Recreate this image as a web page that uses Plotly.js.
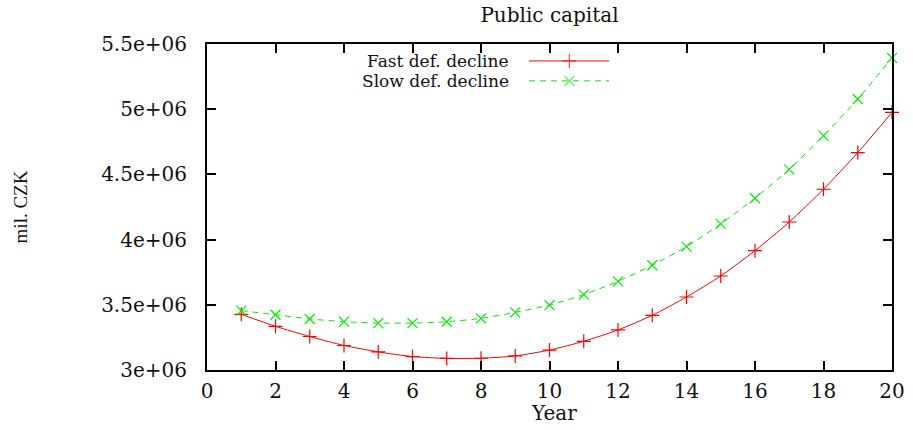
<!DOCTYPE html>
<html>
<head>
<meta charset="utf-8">
<script src="https://cdn.plot.ly/plotly-3.0.1.min.js"></script>
<style>
  html, body { margin: 0; padding: 0; background: #fff; }
  #chart { width: 913px; height: 430px; }
</style>
</head>
<body>
<div id="chart"></div>
<script>
// Public capital stock under two deficit-decline scenarios (mil. CZK)
const years = [1, 2, 3, 4, 5, 6, 7, 8, 9, 10, 11, 12, 13, 14, 15, 16, 17, 18, 19, 20];

const fastDecline = [3427000, 3335000, 3257000, 3188000, 3139000, 3103000, 3089000, 3090000, 3108000, 3153000,
                     3220000, 3307000, 3419000, 3560000, 3721000, 3915000, 4135000, 4386000, 4667000, 4976000];

const slowDecline = [3455000, 3424000, 3391000, 3371000, 3360000, 3360000, 3370000, 3396000, 3442000, 3498000,
                     3578000, 3680000, 3803000, 3946000, 4120000, 4317000, 4539000, 4797000, 5078000, 5393000];

const seriesNames = ['Fast def. decline', 'Slow def. decline'];

const xTickVals = [0, 2, 4, 6, 8, 10, 12, 14, 16, 18, 20];
const yTickVals = [3000000, 3500000, 4000000, 4500000, 5000000, 5500000];
const yTickLabels = ['3e+06', '3.5e+06', '4e+06', '4.5e+06', '5e+06', '5.5e+06'];

// Key samples live on a hidden 0..1 overlay axis pair spanning the plot area
const keyX = [0.470, 0.529, 0.587];
const keyRowY = [0.948, 0.887];
const keyLabelX = 0.442;

const serif = 'DejaVu Serif, Liberation Serif, serif';
const RED = '#ff0000';
const GREEN = '#00ee00';

const fastStyle = {
  line: { color: RED, width: 1 },
  marker: { symbol: 'cross-thin-open', size: 10, color: RED, line: { color: RED, width: 1.2 } }
};
const slowStyle = {
  line: { color: GREEN, width: 1, dash: '6px,5px' },
  marker: { symbol: 'x-thin-open', size: 10, color: GREEN, line: { color: GREEN, width: 1.2 } }
};

function seriesTrace(xs, ys, name, st) {
  return {
    x: xs, y: ys, name: name, type: 'scatter', mode: 'lines+markers',
    line: Object.assign({ shape: 'spline', smoothing: 0.6 }, st.line),
    marker: st.marker, cliponaxis: false, showlegend: false
  };
}

const traces = [
  seriesTrace(years, fastDecline, seriesNames[0], fastStyle),
  seriesTrace(years, slowDecline, seriesNames[1], slowStyle)
];

// Key line samples with a single marker in the middle
[fastStyle, slowStyle].forEach(function (st, i) {
  traces.push({
    x: keyX, y: [keyRowY[i], keyRowY[i], keyRowY[i]],
    xaxis: 'x2', yaxis: 'y2', type: 'scatter', mode: 'lines+markers',
    line: st.line,
    marker: Object.assign({}, st.marker, { size: [0, st.marker.size, 0] }),
    hoverinfo: 'skip', showlegend: false, cliponaxis: false
  });
});

const annotations = seriesNames.map(function (name, i) {
  return {
    text: name, xref: 'paper', yref: 'paper', x: keyLabelX, y: keyRowY[i],
    xanchor: 'right', yanchor: 'middle', showarrow: false, borderpad: 0,
    font: { family: serif, size: 17, color: '#111' }
  };
});

// x-axis title sits tight under the tick labels
annotations.push({
  text: 'Year', xref: 'paper', yref: 'paper', x: 0.507, y: -43 / 326,
  xanchor: 'center', yanchor: 'middle', showarrow: false, borderpad: 0,
  font: { family: serif, size: 20, color: '#111' }
});

const axisCommon = {
  showgrid: false, zeroline: false, showline: true, mirror: 'ticks',
  linecolor: '#000', linewidth: 2, ticks: 'inside', ticklen: 9, tickwidth: 2, tickcolor: '#000',
  tickfont: { family: serif, size: 20, color: '#111' }
};

const layout = {
  width: 913, height: 430,
  margin: { l: 207, r: 21, t: 44, b: 60, pad: 0 },
  paper_bgcolor: '#fff', plot_bgcolor: '#fff',
  showlegend: false,
  title: {
    text: 'Public capital', font: { family: serif, size: 20, color: '#111' },
    x: 0.5, xref: 'paper', xanchor: 'center', y: 1 - 15 / 430, yref: 'container', yanchor: 'middle'
  },
  xaxis: Object.assign({}, axisCommon, {
    range: [0, 20], tickvals: xTickVals, ticklabelstandoff: 2
  }),
  yaxis: Object.assign({}, axisCommon, {
    range: [3000000, 5500000], tickvals: yTickVals, ticktext: yTickLabels, ticklabelstandoff: 14,
    title: { text: 'mil. CZK', font: { family: 'Liberation Serif, Times New Roman, serif', size: 19, color: '#111' }, standoff: 68 }
  }),
  xaxis2: { overlaying: 'x', range: [0, 1], visible: false, fixedrange: true },
  yaxis2: { overlaying: 'y', range: [0, 1], visible: false, fixedrange: true },
  annotations: annotations
};

Plotly.newPlot('chart', traces, layout, { displayModeBar: false, staticPlot: true });
</script>
</body>
</html>
